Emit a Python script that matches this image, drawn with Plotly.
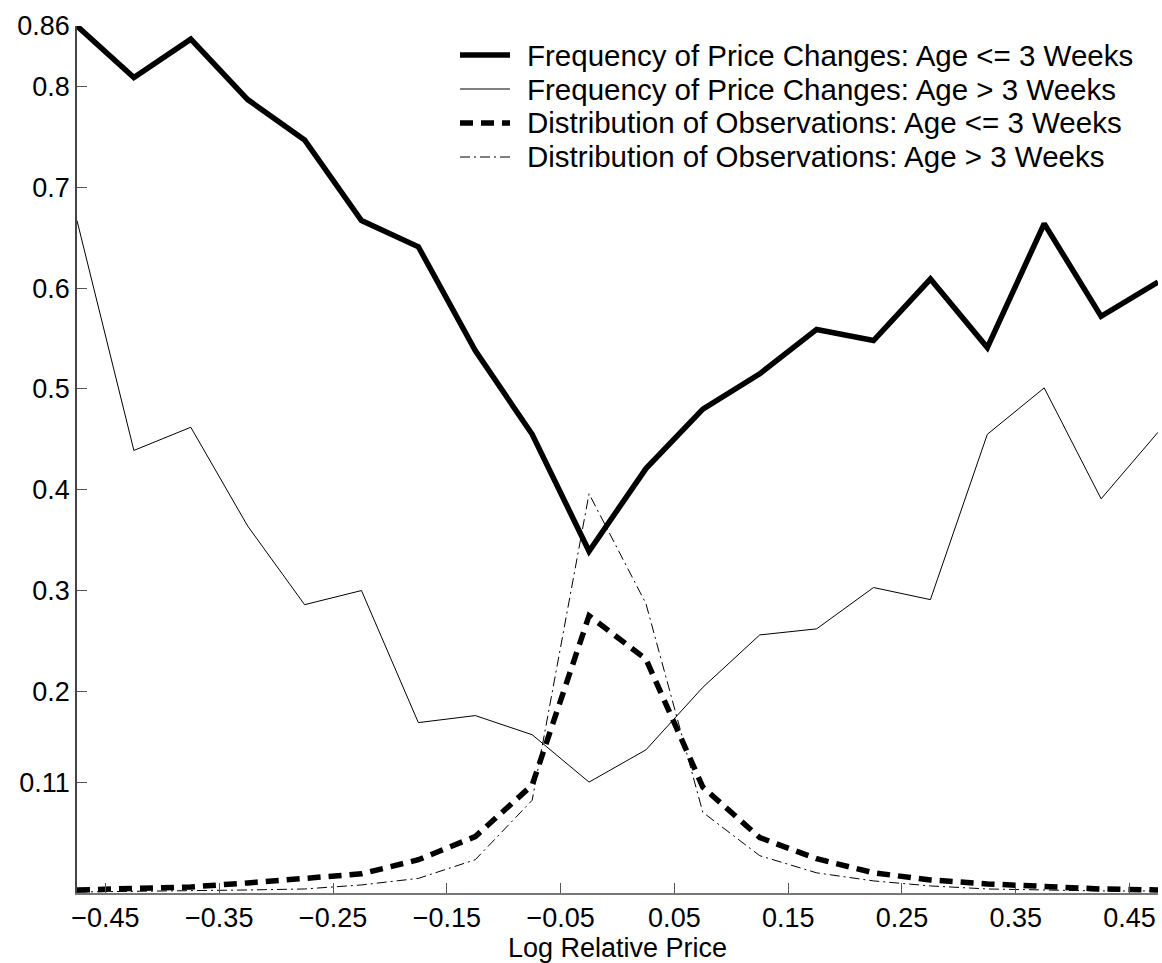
import plotly.graph_objects as go

# Bin centres of log relative price
log_rel_price = [-0.475, -0.425, -0.375, -0.325, -0.275, -0.225, -0.175, -0.125, -0.075, -0.025,
                 0.025, 0.075, 0.125, 0.175, 0.225, 0.275, 0.325, 0.375, 0.425, 0.475]

# Frequency of price changes by age of price
freq_young = [0.860, 0.809, 0.847, 0.787, 0.747, 0.667, 0.641, 0.538, 0.455, 0.339,
              0.421, 0.480, 0.515, 0.559, 0.548, 0.609, 0.541, 0.664, 0.572, 0.606]
freq_old = [0.667, 0.439, 0.462, 0.364, 0.286, 0.300, 0.169, 0.176, 0.157, 0.110,
            0.142, 0.204, 0.256, 0.262, 0.303, 0.291, 0.455, 0.501, 0.391, 0.457]

# Distribution of observations by age of price
dist_young = [0.003, 0.004, 0.006, 0.010, 0.014, 0.019, 0.033, 0.056, 0.107, 0.275,
              0.232, 0.105, 0.055, 0.034, 0.020, 0.013, 0.009, 0.006, 0.004, 0.003]
dist_old = [0.001, 0.0015, 0.002, 0.003, 0.004, 0.008, 0.0145, 0.033, 0.092, 0.396,
            0.287, 0.080, 0.037, 0.020, 0.012, 0.007, 0.004, 0.003, 0.002, 0.002]

x_ticks = [-0.45, -0.35, -0.25, -0.15, -0.05, 0.05, 0.15, 0.25, 0.35, 0.45]
x_tick_text = ["\u22120.45", "\u22120.35", "\u22120.25", "\u22120.15", "\u22120.05",
               "0.05", "0.15", "0.25", "0.35", "0.45"]
y_ticks = [0.11, 0.2, 0.3, 0.4, 0.5, 0.6, 0.7, 0.8, 0.86]
y_tick_text = ["0.11", "0.2", "0.3", "0.4", "0.5", "0.6", "0.7", "0.8", "0.86"]

names = [
    "Frequency of Price Changes: Age <= 3 Weeks",
    "Frequency of Price Changes: Age > 3 Weeks",
    "Distribution of Observations: Age <= 3 Weeks",
    "Distribution of Observations: Age > 3 Weeks",
]
series = [freq_young, freq_old, dist_young, dist_old]
styles = [
    dict(color="black", width=5.5),
    dict(color="black", width=1),
    dict(color="black", width=5.5, dash="13px,8px"),
    dict(color="black", width=1, dash="10px,4px,2px,4px"),
]

FONT = "Liberation Sans, Arial, Helvetica, sans-serif"
W, H = 1162, 963
M = dict(l=77, r=4, t=26, b=70)

fig = go.Figure()
for name, ys, st in zip(names, series, styles):
    fig.add_trace(go.Scatter(x=log_rel_price, y=ys, mode="lines", name=name,
                             line=st, showlegend=False))

# Key in the upper part of the plot: line sample + label per series
plot_w = W - M["l"] - M["r"]
plot_h = H - M["t"] - M["b"]


def px_x(px):
    return (px - M["l"]) / plot_w


def px_y(py):
    return 1 - (py - M["t"]) / plot_h


row_y = [55, 89, 123, 157]
for name, st, py in zip(names, styles, row_y):
    fig.add_shape(type="line", xref="paper", yref="paper",
                  x0=px_x(460), x1=px_x(510), y0=px_y(py), y1=px_y(py),
                  line=dict(color=st["color"], width=st["width"], dash=st.get("dash", "solid")))
    fig.add_annotation(xref="paper", yref="paper", x=px_x(525), y=px_y(py),
                       xanchor="left", yanchor="middle", text=name, showarrow=False,
                       font=dict(family=FONT, size=29.5, color="black"))

fig.update_layout(
    width=W, height=H,
    margin=M,
    paper_bgcolor="white", plot_bgcolor="white",
    font=dict(family=FONT, size=27, color="black"),
    showlegend=False,
    xaxis=dict(
        range=[-0.475, 0.475], tickmode="array", tickvals=x_ticks, ticktext=x_tick_text,
        ticks="inside", ticklen=10, tickcolor="#555", tickwidth=1,
        showline=True, linecolor="#777", linewidth=1.5, mirror=False,
        showgrid=False, zeroline=False,
        title=dict(text="Log Relative Price", standoff=2, font=dict(size=27)),
        tickfont=dict(size=27),
    ),
    yaxis=dict(
        range=[0, 0.86], tickmode="array", tickvals=y_ticks, ticktext=y_tick_text,
        ticks="inside", ticklen=10, tickcolor="#555", tickwidth=1,
        showline=True, linecolor="#444", linewidth=1.5, mirror=False,
        showgrid=False, zeroline=False,
        tickfont=dict(size=27),
    ),
)

fig.write_html("out.html")
